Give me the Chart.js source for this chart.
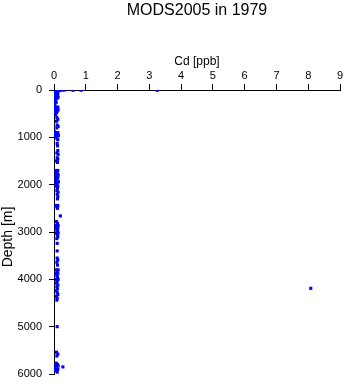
<!DOCTYPE html>
<html>
<head>
<meta charset="utf-8">
<script src="https://cdn.jsdelivr.net/npm/chart.js@4"></script>
<style>
  html, body { margin: 0; padding: 0; background: #fff; }
  #wrap { width: 345px; height: 384px; }
</style>
</head>
<body>
<div id="wrap"><canvas id="profileChart" width="345" height="384"></canvas></div>
<script>
const TITLE = "MODS2005 in 1979";
const X_TITLE = "Cd [ppb]";
const Y_TITLE = "Depth [m]";

// sample depths [m] and Cd [ppb]
const depths = [
  0, 0, 0, 0, 0, 0, 5, 5, 5,
  10, 10, 10, 20, 20, 30, 30, 50, 50, 70, 70, 90, 90, 110, 110, 130, 130,
  150, 150, 175, 175, 200, 230, 260, 300, 360, 360, 390, 390, 420, 420,
  450, 450, 480, 520, 580, 620, 660, 740, 770, 800, 880, 900, 900, 930, 930,
  960, 960, 990, 1020, 1050, 1130, 1180, 1280, 1330, 1360, 1430, 1460, 1500, 1530,
  1700, 1700, 1730, 1760, 1790, 1790, 1820, 1850, 1850, 1880, 1910, 1940, 1940,
  1970, 2000, 2030, 2030, 2080, 2120, 2160, 2200, 2250, 2300, 2440, 2440, 2470,
  2500, 2660, 2780, 2820, 2860, 2860, 2890, 2920, 2920, 2950, 2980, 3020, 3020,
  3060, 3100, 3140, 3240, 3400, 3550, 3590, 3640, 3700, 3800, 3800, 3840, 3880,
  3880, 3920, 3960, 4000, 4000, 4040, 4080, 4120, 4160, 4190, 4200, 4240, 4280,
  4320, 4360, 4400, 4440, 5000, 5540, 5580, 5620, 5770, 5800, 5830, 5830, 5850,
  5870, 5900, 5900, 5930, 5960
];
const cdValues = [
  0.03, 0.08, 0.14, 0.2, 0.27, 0.33, 0.6, 0.85, 3.25,
  0.02, 0.1, 0.18, 0.04, 0.12, 0.02, 0.08, 0.03, 0.1, 0.05, 0.12, 0.02, 0.08, 0.04, 0.11, 0.03, 0.09,
  0.06, 0.13, 0.02, 0.1, 0.05, 0.04, 0.07, 0.03, 0.04, 0.12, 0.02, 0.09, 0.06, 0.13,
  0.03, 0.1, 0.08, 0.05, 0.09, 0.12, 0.08, 0.1, 0.13, 0.09, 0.02, 0.06, 0.12, 0.04, 0.1,
  0.08, 0.14, 0.05, 0.09, 0.12, 0.1, 0.11, 0.12, 0.09, 0.13, 0.1, 0.12, 0.08, 0.11,
  0.05, 0.12, 0.08, 0.1, 0.06, 0.13, 0.09, 0.07, 0.12, 0.1, 0.05, 0.09, 0.14,
  0.06, 0.1, 0.07, 0.12, 0.11, 0.09, 0.13, 0.1, 0.12, 0.11, 0.06, 0.12, 0.09,
  0.11, 0.2, 0.08, 0.11, 0.06, 0.13, 0.1, 0.07, 0.12, 0.09, 0.11, 0.08, 0.13,
  0.1, 0.12, 0.09, 0.1, 0.1, 0.1, 0.12, 0.09, 0.11, 0.08, 0.13, 0.1, 0.06,
  0.12, 0.09, 0.11, 0.07, 0.13, 0.1, 0.08, 0.12, 0.09, 8.08, 0.11, 0.07, 0.1,
  0.12, 0.08, 0.1, 0.09, 0.1, 0.08, 0.12, 0.09, 0.07, 0.11, 0.06, 0.13, 0.28,
  0.09, 0.05, 0.12, 0.08, 0.1
];

const X_MIN = 0, X_MAX = 9, X_STEP = 1;
const Y_MIN = 0, Y_MAX = 6000, Y_STEP = 1000;

Chart.defaults.font.family = "'Liberation Sans', Arial, sans-serif";
Chart.defaults.color = "#000";

const points = depths.map((d, i) => ({ x: cdValues[i], y: d }));

// y axis title drawn by hand so it can sit a little below the axis middle
const yTitlePlugin = {
  id: "yTitle",
  afterDraw(c) {
    const ctx = c.ctx;
    ctx.save();
    ctx.translate(8, 237);
    ctx.rotate(-Math.PI / 2);
    ctx.font = "14px 'Liberation Sans', Arial, sans-serif";
    ctx.fillStyle = "#000";
    ctx.textAlign = "center";
    ctx.textBaseline = "middle";
    ctx.fillText(Y_TITLE, 0, 0);
    ctx.restore();
  }
};

new Chart(document.getElementById("profileChart"), {
  type: "scatter",
  data: {
    datasets: [{
      data: points,
      backgroundColor: "#0000ff",
      borderWidth: 0,
      pointStyle: "rect",
      pointRadius: 2.2,
      pointHoverRadius: 2.2
    }]
  },
  options: {
    responsive: false,
    animation: false,
    events: [],
    layout: { padding: { left: 0, right: 5, top: 0, bottom: 10 } },
    plugins: {
      legend: { display: false },
      tooltip: { enabled: false },
      title: {
        display: true,
        text: TITLE,
        fullSize: false,
        font: { size: 16, weight: "normal" },
        color: "#000",
        padding: { top: 1, bottom: 2 }
      }
    },
    scales: {
      x: {
        type: "linear",
        position: "top",
        min: X_MIN, max: X_MAX,
        ticks: { stepSize: X_STEP, padding: 1, font: { size: 11 }, color: "#000", callback: v => String(v) },
        grid: { drawOnChartArea: false, drawTicks: true, tickLength: 6, color: "#000" },
        border: { display: true, color: "#000", width: 1 },
        title: { display: true, text: X_TITLE, font: { size: 12 }, color: "#000", padding: { top: 32, bottom: 0 } },
        afterFit(scale) { scale.height = 67.8; }
      },
      y: {
        type: "linear",
        reverse: true,
        min: Y_MIN, max: Y_MAX,
        ticks: { stepSize: Y_STEP, padding: 7, font: { size: 11 }, color: "#000", callback: v => String(v) },
        grid: { drawOnChartArea: false, drawTicks: true, tickLength: 5, color: "#000" },
        border: { display: true, color: "#000", width: 1 },
        afterFit(scale) {
          scale.width = 54;
          scale.paddingTop = 0;
          scale.paddingBottom = 0;
        }
      }
    }
  },
  plugins: [yTitlePlugin]
});
</script>
</body>
</html>
